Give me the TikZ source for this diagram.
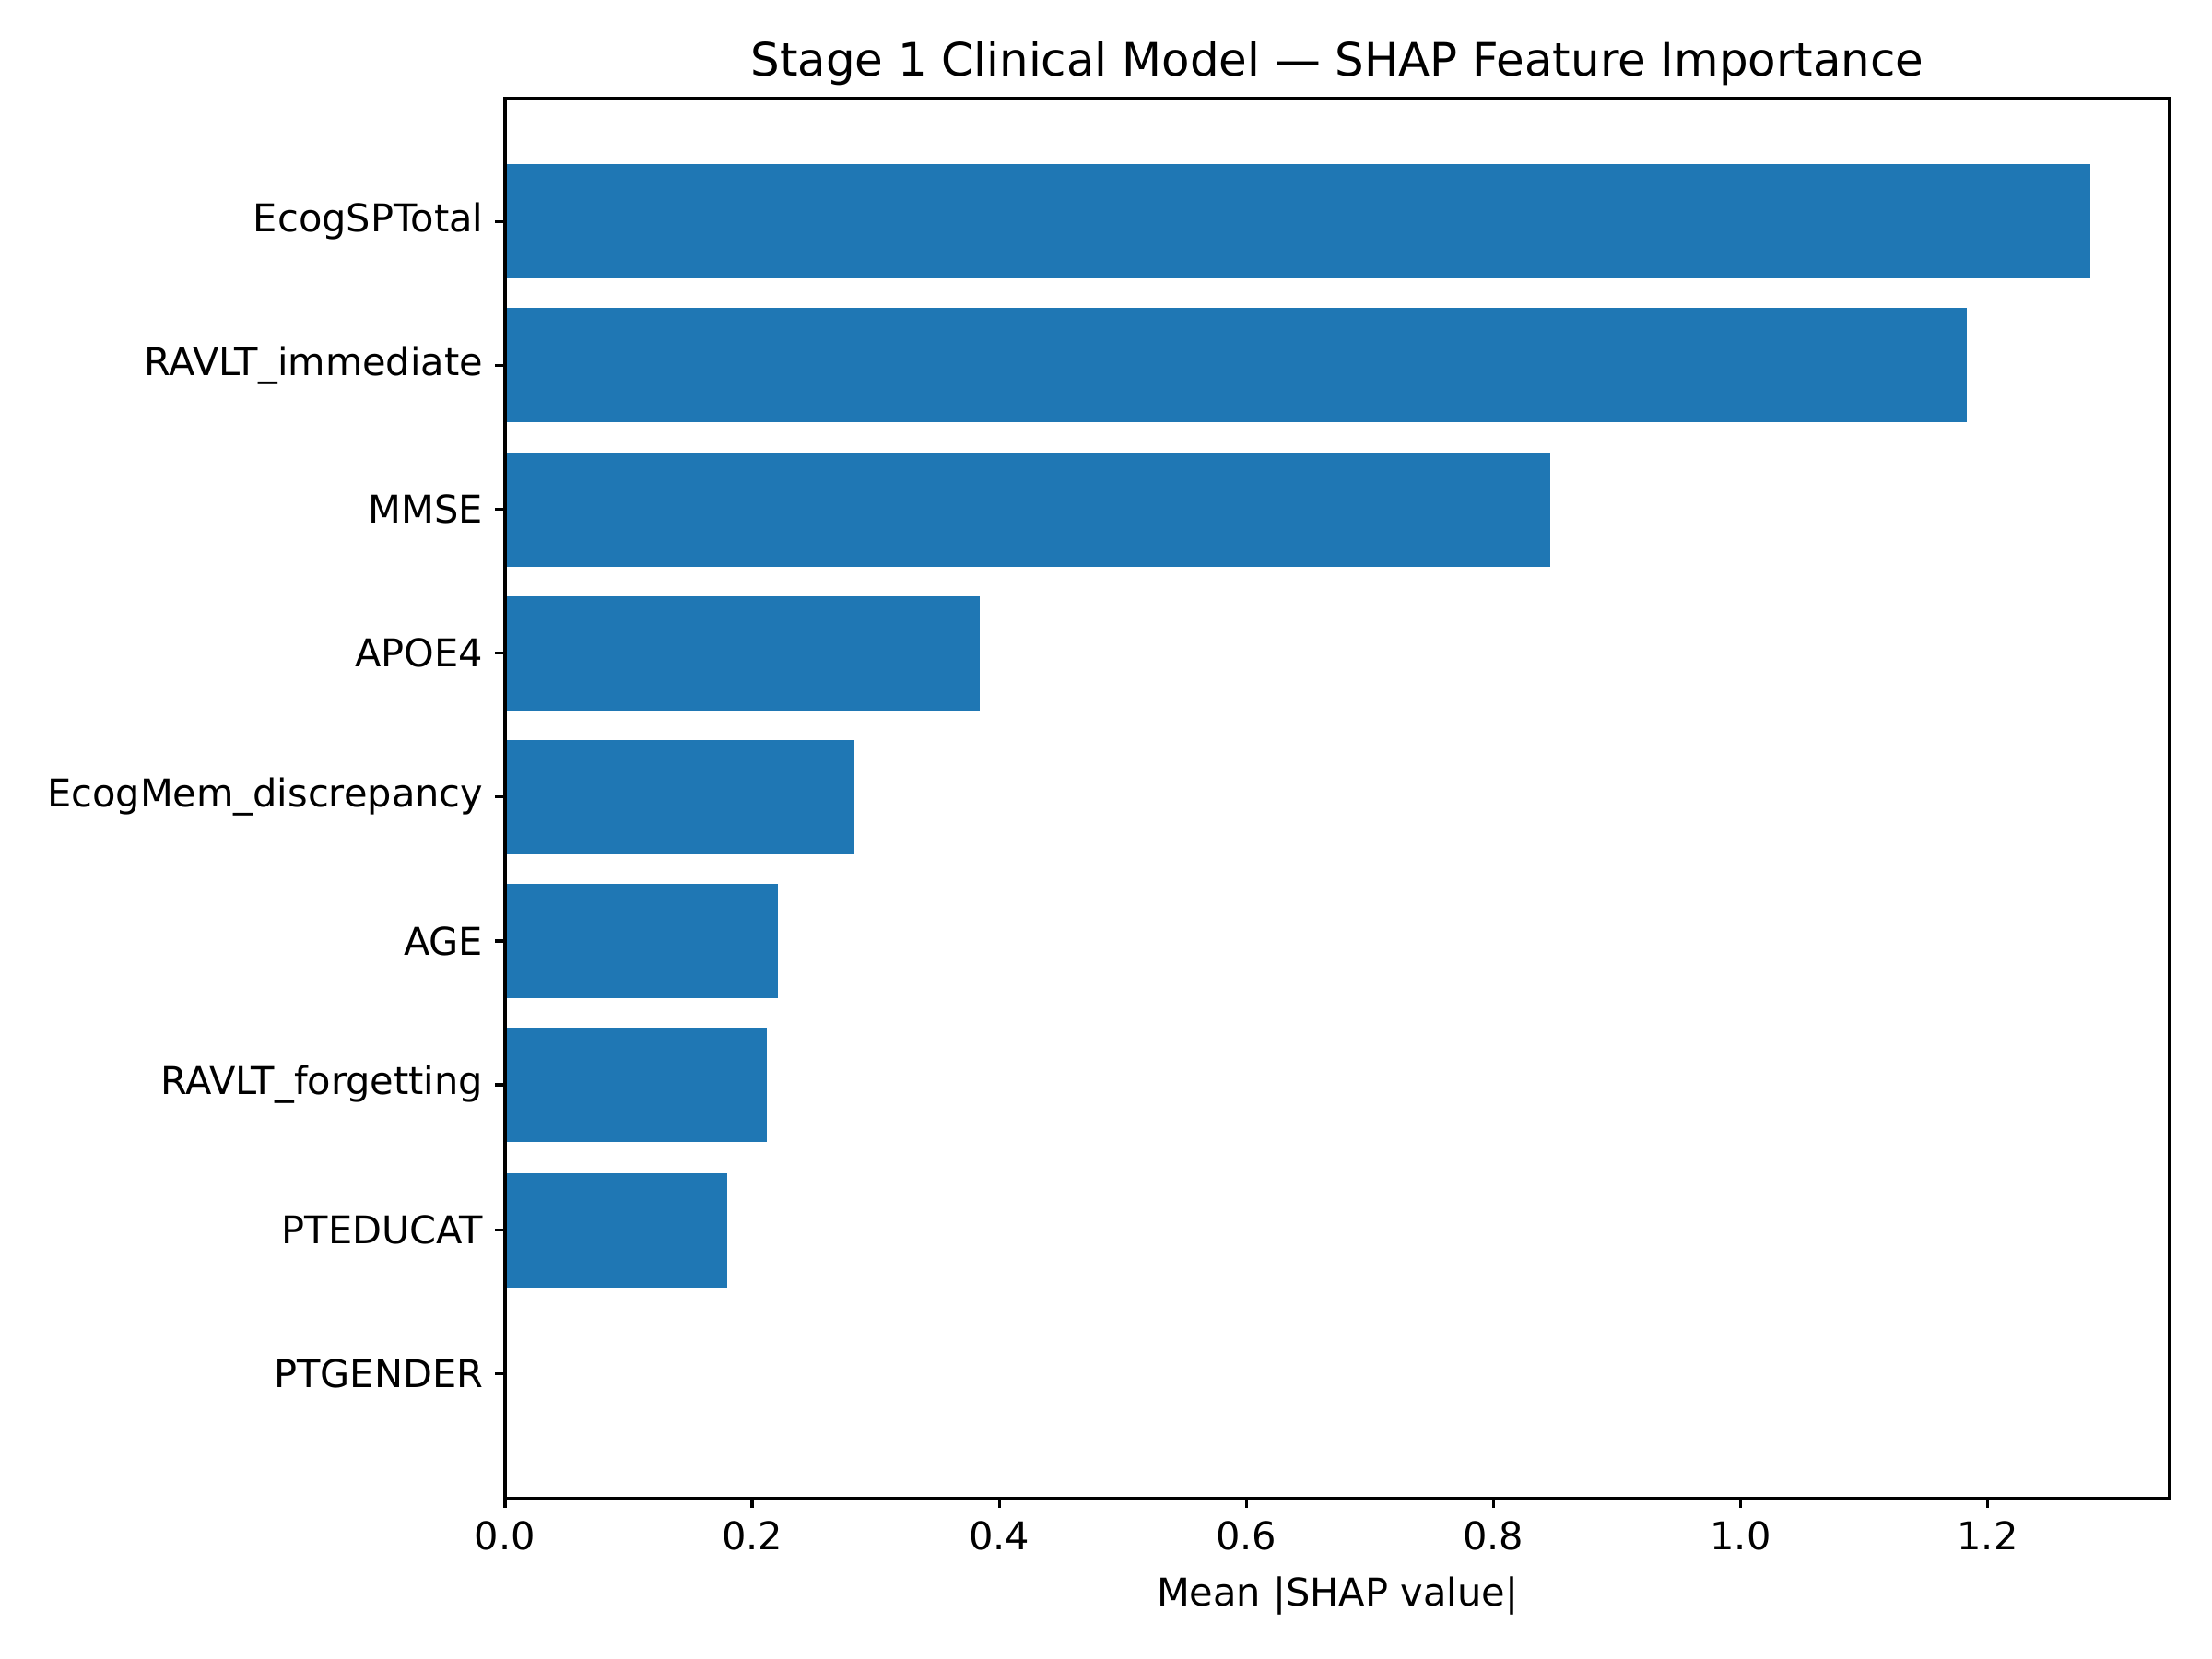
\documentclass[tikz,border=0pt]{standalone}
\usepackage{fontspec}
\setmainfont{DejaVu Sans}
\definecolor{barblue}{HTML}{1F77B4}
\begin{document}
\begin{tikzpicture}[x=0.012959cm,y=-0.012959cm,
  bar/.style={fill=barblue,draw=none},
  tick/.style={line width=0.8pt},
  lbl/.style={font=\fontsize{10}{12}\selectfont,inner sep=0pt}]
\useasboundingbox (0,0) rectangle (1568,1176);
\def\u{875.8}
\foreach \v/\yc/\name in {1.283/157/EcogSPTotal,1.183/259/RAVLT\_immediate,0.846/361/MMSE,0.384/463/APOE4,0.283/565/EcogMem\_discrepancy,0.221/667/AGE,0.212/769/RAVLT\_forgetting,0.180/872/PTEDUCAT,0.0/974/PTGENDER}{
  \ifdim\v pt>0pt \fill[barblue] (358,\yc-40.5) rectangle ({358+\v*\u},\yc+40.5);\fi
  \draw[tick] (358,\yc) -- (351,\yc);
  \node[lbl,anchor=east] (y\yc) at (343,\yc) {\name};
}
\foreach \t in {0.0,0.2,0.4,0.6,0.8,1.0,1.2}{
  \draw[tick] ({358+\t*\u},1062) -- ({358+\t*\u},1069);
  \node[lbl,anchor=north] (x\t) at ({358+\t*\u},1078) {\t};
}
\draw[line width=0.8pt] (358,70) rectangle (1538,1062);
\node[lbl,anchor=north] (xl) at (948,1117) {Mean |SHAP value|};
\node[inner sep=0pt,font=\fontsize{12}{14}\selectfont] (title) at (948,45) {Stage 1 Clinical Model — SHAP Feature Importance};
\end{tikzpicture}
\end{document}
